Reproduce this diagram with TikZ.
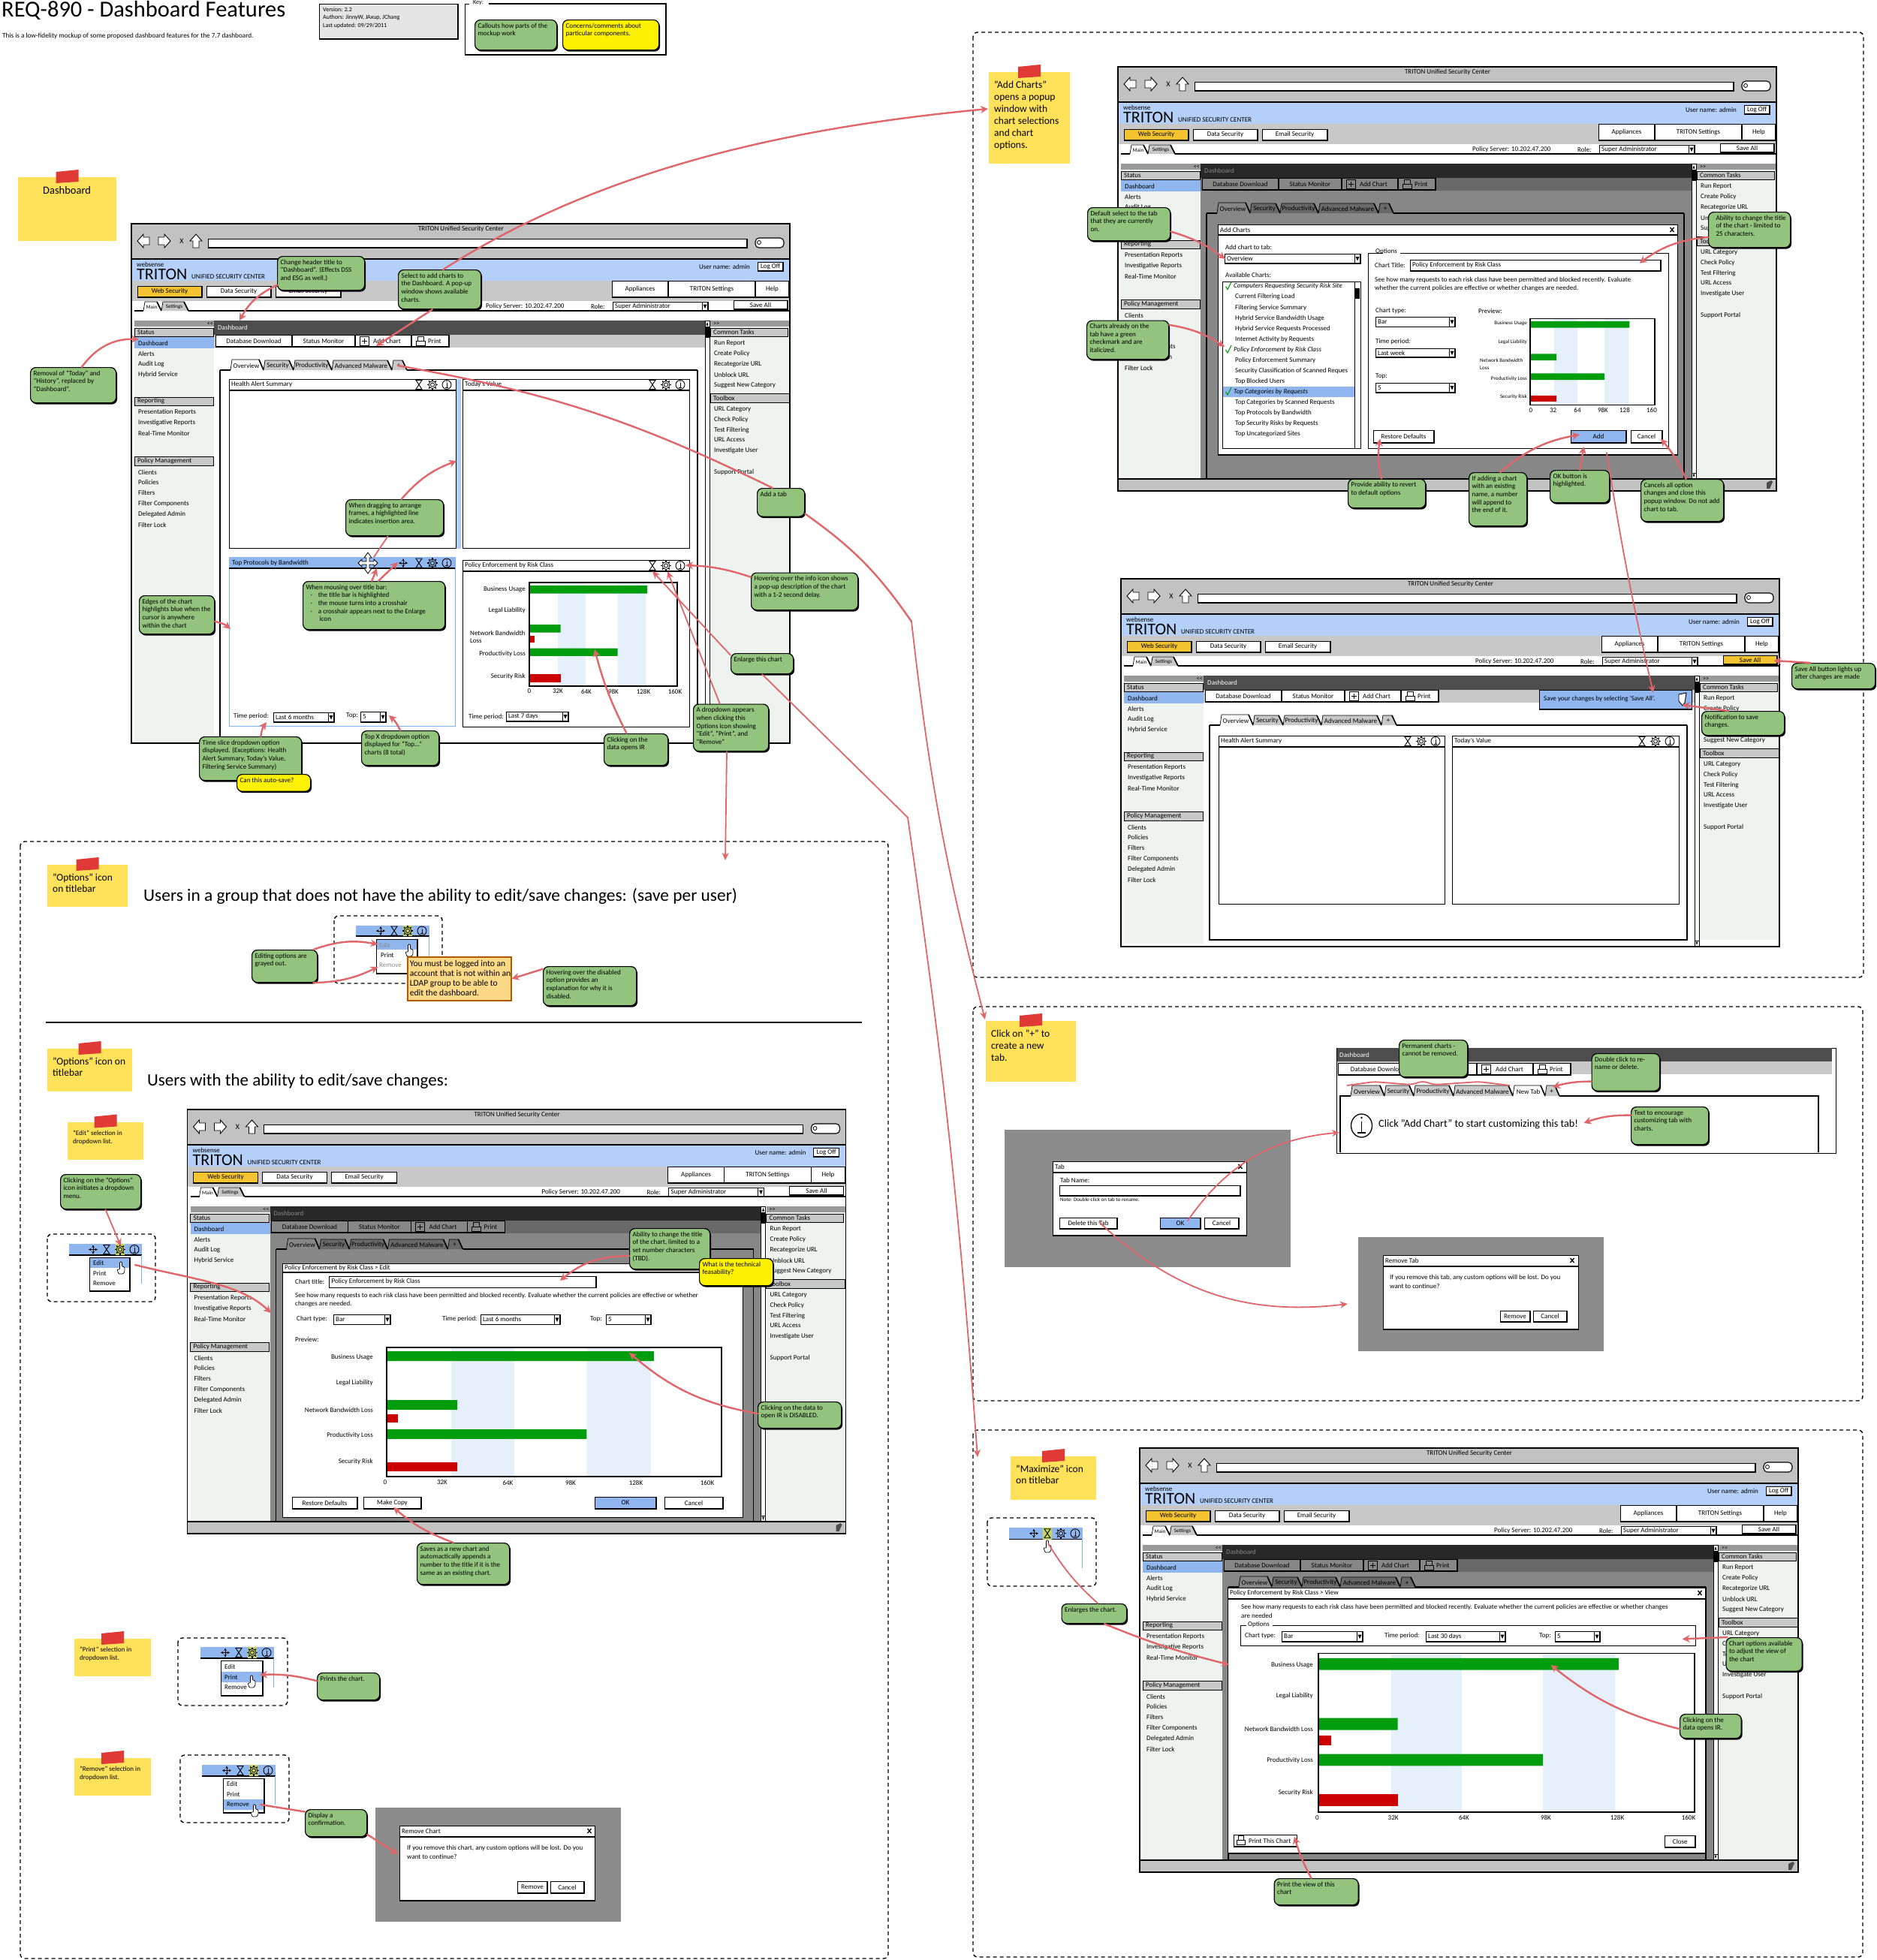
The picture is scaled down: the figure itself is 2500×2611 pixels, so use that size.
\documentclass[tikz,border=0pt]{standalone}
\usepackage{fontspec}
\setmainfont{Carlito}
\usetikzlibrary{arrows.meta,calc,shadows}
\definecolor{calloutgreen}{HTML}{93C47D}
\definecolor{noteyellow}{HTML}{FFE25A}
\definecolor{tapered}{HTML}{E03A36}
\definecolor{arrowred}{HTML}{E0666A}
\definecolor{chromegrey}{HTML}{C2C2C2}
\definecolor{navgrey}{HTML}{C8C8C8}
\definecolor{hdrblue}{HTML}{B4D0F8}
\definecolor{selblue}{HTML}{8FB6EF}
\definecolor{sidebg}{HTML}{EEF3EF}
\definecolor{midgrey}{HTML}{999999}
\definecolor{darkbar}{HTML}{4D4D4D}
\definecolor{band}{HTML}{E6F0FB}
\definecolor{barg}{HTML}{009E0F}
\definecolor{barr}{HTML}{CC0000}
\definecolor{btnyellow}{HTML}{F4C430}
\definecolor{panelgrey}{HTML}{8C8C8C}
\definecolor{gearhi}{HTML}{C7D560}
\definecolor{frameblue}{HTML}{7CB0F0}
\tikzset{
  lab/.style={inner sep=0pt,anchor=west,text=black,font=\fontsize{9}{11}\selectfont},
  fs7/.style={font=\fontsize{7}{8}\selectfont},
  fs8/.style={font=\fontsize{8}{10}\selectfont},
  fs10/.style={font=\fontsize{10}{12}\selectfont},
  whitetext/.style={text=white},
  greytext/.style={text=black!45},
  calloutbox/.style={draw=black,line width=1.2pt,rounded corners=7pt,inner xsep=4pt,inner ysep=3pt,
    font=\fontsize{9.1}{10.7}\selectfont,
    drop shadow={shadow xshift=1.5pt,shadow yshift=-2pt,fill=black,opacity=1}},
  stickybox/.style={fill=noteyellow,inner xsep=7pt,inner ysep=10pt},
  redarrow/.style={draw=arrowred,line width=2.4pt,line cap=round,-{Stealth[length=10pt,width=10pt]}},
  thinred/.style={draw=arrowred,line width=1.8pt,line cap=round},
  thinredarrow/.style={thinred,-{Stealth[length=10pt,width=9pt]}},
  dashbox/.style={draw=black,line width=1.4pt,dash pattern=on 5pt off 4pt,rounded corners=6pt},
  thinline/.style={line width=.7pt},
  heavy/.style={line width=1.6pt},
}
\newcount\lblcnt
\newcommand{\lbl}[4][]{\global\advance\lblcnt by 1\relax \node[lab,#1] (t\the\lblcnt) at ({#2},{#3}) {#4};}
\newcommand{\bx}[5]{\draw[thinline,fill=#5] (#1,#2) rectangle (#3,#4); \draw[heavy] (#1,#4) -- (#3,#4) -- (#3,#2);}
\newcommand{\btn}[7][]{\bx{#2}{#3}{#4}{#5}{#6}\global\advance\lblcnt by 1\relax \node[lab,anchor=center,#1] (t\the\lblcnt) at ($(#2,#3)!.5!(#4,#5)$) {#7};}
\newcommand{\ddn}[5]{\bx{#1}{#2}{#3}{#4}{white}\draw[thinline] ({#3-8},#2) -- ({#3-8},#4);
  \fill[black] ({#3-6.5},{(#2+#4)/2-2.5}) -- ({#3-1.5},{(#2+#4)/2-2.5}) -- ({#3-4},{(#2+#4)/2+3}) -- cycle;
  \lbl{#1+3}{(#2+#4)/2}{#5}}
\newcommand{\tabt}[7][]{\draw[thinline,fill=#6] (#2,#5) -- ({#2+2},#4) -- ({#3-6},#4) -- (#3,#5); \draw[heavy] ({#3-6},#4) -- (#3,#5);
  \global\advance\lblcnt by 1\relax \node[lab,anchor=center,#1] (t\the\lblcnt) at ({(#2+#3)/2-1},{(#4+#5)/2+1}) {#7};}
\newcommand{\sbhead}[5]{\draw[line width=1pt,fill=navgrey] (#1,#3) rectangle (#2,#4); \lbl{#1+4}{(#3+#4)/2}{#5}}
\newcommand{\icmax}[2]{\draw[line width=.9pt] ({#1-4},{#2-6}) -- ({#1+4},{#2-6}) -- ({#1-4},{#2+6}) -- ({#1+4},{#2+6}) -- cycle;}
\newcommand{\icgear}[2]{\draw[line width=.8pt] ({#1},{#2}) circle (2.6pt);\draw[line width=.8pt] ({#1},{#2}) circle (5pt);
  \foreach \ga in {0,45,...,315}{\draw[line width=1.1pt] ($({#1},{#2})+(\ga:5pt)$) -- ($({#1},{#2})+(\ga:7pt)$);}}
\newcommand{\icinfo}[2]{\draw[line width=.9pt] ({#1},{#2}) circle (6pt);\draw[line width=1pt] ({#1},{#2-2.5}) -- ({#1},{#2+3.5}) ({#1-2},{#2+3.5}) -- ({#1+2},{#2+3.5});\fill ({#1},{#2-4}) circle (.7pt);}
\newcommand{\iccross}[2]{\draw[line width=.9pt,{Stealth[length=3.5pt,width=3.5pt]}-{Stealth[length=3.5pt,width=3.5pt]}] ({#1-6},{#2}) -- ({#1+6},{#2});
  \draw[line width=.9pt,{Stealth[length=3.5pt,width=3.5pt]}-{Stealth[length=3.5pt,width=3.5pt]}] ({#1},{#2-6}) -- ({#1},{#2+6});}
\newcommand{\hand}[2]{\begin{scope}[shift={(#1,#2)}]\draw[line width=.7pt,fill=white,rounded corners=1pt] (-1.5,-8) -- (1.5,-8) -- (1.5,-2) -- (5,-1) -- (5,5) -- (3,8) -- (-3,8) -- (-5,2) -- (-1.5,2) -- cycle;\end{scope}}
\newcommand{\chartframe}[5]{\draw[line width=1pt,fill=white] (#1,#2) rectangle (#3,#4); \draw[line width=1.2pt] (#1,{#2+15}) -- (#3,{#2+15});
  \lbl{#1+3}{#2+7.5}{#5}\icmax{#3-49}{#2+7.5}\icgear{#3-31}{#2+7.5}\icinfo{#3-12}{#2+7.5}}
\newcommand{\barchart}[5]{\begin{scope}[shift={(#1,#2)},xscale={#3-#1},yscale={#4-#2}]
  \fill[white] (0,0) rectangle (1,1);
  \fill[band] (.193,0) rectangle (.381,1) (.597,0) rectangle (.789,1);
  \fill[barg] (0,.03) rectangle (.798,.105) (0,.407) rectangle (.211,.483) (0,.634) rectangle (.597,.709);
  \fill[barr] (0,.887) rectangle (.211,.962);
  \ifnum#5=1 \fill[barr] (0,.517) rectangle (.034,.581);\fi
  \draw[line width=1.1pt] (0,1) -- (0,0) -- (1,0) -- (1,1) -- cycle;
  \end{scope}}
\newcommand{\dlg}[6]{\draw[line width=.8pt,fill=white] (#1,#2) rectangle (#3,#4); \draw[heavy] (#1,#4) -- (#3,#4); \draw[line width=1.2pt] (#1,#5) -- (#3,#5);
  \lbl{#1+3}{(#2+#5)/2}{#6}}
\newcommand{\closex}[2]{\draw[line width=1.3pt] ({#1-2.5},{#2-3}) -- ({#1+2.5},{#2+3}) ({#1+2.5},{#2-3}) -- ({#1-2.5},{#2+3});}
\newcommand{\minibar}[5]{\fill[selblue] (#1,#2) rectangle (#3,#4); \draw[line width=1.2pt] (#1,#4) -- (#3,#4);
  \ifnum#5=1 \fill[gearhi] ({#3-35},#2) rectangle ({#3-23},#4);\fi
  \ifnum#5=2 \fill[gearhi] ({#3-53},#2) rectangle ({#3-41},#4);\fi
  \iccross{#3-65}{(#2+#4)/2}\icmax{#3-47}{(#2+#4)/2}\icgear{#3-29}{(#2+#4)/2}\icinfo{#3-10}{(#2+#4)/2}}
\newcommand{\brchrome}[2]{%
  \fill[white] (0,0) rectangle (877,#1);
  \fill[chromegrey] (0,0) rectangle (877,47);
  \draw[line width=1.6pt] (0,0) -- (877,0) (0,47) -- (877,47);
  \lbl[anchor=center]{439}{7}{TRITON Unified Security Center}
  \draw[line width=.9pt,fill=white] (8,23) -- (16,14) -- (16,18) -- (24,18) -- (24,28) -- (16,28) -- (16,32) -- cycle;
  \draw[line width=.9pt,fill=white] (52,23) -- (44,14) -- (44,18) -- (36,18) -- (36,28) -- (44,28) -- (44,32) -- cycle;
  \lbl[anchor=center,fs10]{67}{23}{X}
  \draw[line width=.9pt,fill=white] (86,14) -- (94,23) -- (90,23) -- (90,32) -- (82,32) -- (82,23) -- (78,23) -- cycle;
  \bx{102}{20}{820}{32}{white}
  \draw[line width=1.1pt,fill=white,rounded corners=5pt] (831,19) rectangle (869,32);
  \draw[line width=.8pt] (836,25) circle (2.5pt);
  \fill[hdrblue] (0,47.5) rectangle (877,76);
  \lbl{7}{54}{websense}
  \lbl[font=\fontsize{22}{24}\selectfont]{7}{67.5}{TRITON}
  \lbl{80}{71}{UNIFIED SECURITY CENTER}
  \lbl[anchor=east]{824}{57}{User name: admin}
  \btn{834}{51}{868}{63}{white}{Log Off}
  \fill[navgrey] (0,76) rectangle (877,103);
  \btn{8}{83}{94}{98}{btnyellow}{Web Security}
  \btn{100}{83}{186}{98}{white}{Data Security}
  \btn{192}{83}{279}{98}{white}{Email Security}
  \btn{640}{76}{715}{98}{white}{Appliances}
  \btn{715}{76}{831}{98}{white}{TRITON Settings}
  \btn{831}{76}{876}{98}{white}{Help}
  \draw[line width=1.2pt] (4,116) -- (16,116) (76,116) -- (877,116);
  \tabt[fs7]{16}{40}{104}{116}{white}{Main}
  \tabt[fs7]{40}{76}{104}{116}{navgrey}{Settings}
  \lbl{472}{110}{Policy Server: 10.202.47.200}
  \lbl{612}{110}{Role:}
  \ddn{641}{104}{768}{116}{Super Administrator}
  \btn{802}{102}{874}{114}{#2}{Save All}
}
\newcommand{\brleft}[1]{%
  \fill[sidebg] (4,137) rectangle (110,#1);
  \fill[midgrey] (4,129) rectangle (110,137);
  \lbl[anchor=east,fs8]{109}{133}{<{}<}
  \sbhead{4}{109}{139}{150}{Status}
  \fill[selblue] (4,151) rectangle (110,166);
  \sbhead{4}{109}{231}{242}{Reporting}
  \sbhead{4}{109}{310}{322}{Policy Management}
  \foreach \tx/\yy in {Dashboard/159,Alerts/173,Audit Log/187,Hybrid Service/201,Presentation Reports/251,Investigative Reports/265,Real-Time Monitor/279,Clients/331,Policies/344,Filters/358,Filter Components/373,Delegated Admin/387,Filter Lock/401}{\lbl{9}{\yy}{\tx}}
}
\newcommand{\brright}[1]{%
  \fill[sidebg] (771,137) rectangle (877,#1);
  \fill[midgrey] (771,129) rectangle (877,137);
  \lbl[fs8]{775}{133}{>{}>}
  \sbhead{771}{874}{139}{150}{Common Tasks}
  \sbhead{771}{876}{226}{238}{Toolbox}
  \foreach \tx/\yy in {Run Report/159,Create Policy/173,Recategorize URL/187,Unblock URL/201,Suggest New Category/215,URL Category/247,Check Policy/261,Test Filtering/275,URL Access/288,Investigate User/302,Support Portal/331}{\lbl{776}{\yy}{\tx}}
}
% #1 bottom, #2 panel bottom, #3 vertical offset of the tab row
\newcommand{\brmain}[3]{%
  \fill[white] (110,129) rectangle (764,#1);
  \fill[darkbar] (110,129) rectangle (764,148);
  \lbl[whitetext]{115}{138.5}{Dashboard}
  \fill[navgrey] (110,148) rectangle (764,165);
  \btn{112}{148}{214}{164}{white}{Database Download}
  \btn{214}{148}{298}{164}{white}{Status Monitor}
  \bx{298}{148}{373}{164}{white}
  \lbl{322}{156}{Add Chart}
  \draw[line width=.8pt,fill=white] (304,150) rectangle (316,162);
  \draw[line width=.8pt] (310,153) -- (310,160) (306.5,156.5) -- (313.5,156.5);
  \bx{373}{148}{423}{164}{white}
  \lbl{395}{156}{Print}
  \draw[line width=.8pt,fill=white] (381,150) rectangle (389,156) (379,156) rectangle (391,162);
  \draw[line width=1.2pt] (118,{195+#3}) -- (132,{195+#3}) (367,{195+#3}) -- (754,{195+#3}) (118,{195+#3}) -- (118,#2) -- (754,#2) -- (754,{195+#3});
  \tabt{132}{176}{181+#3}{195+#3}{white}{Overview}
  \tabt{176}{216}{182+#3}{195+#3}{navgrey}{Security}
  \tabt{216}{267}{182+#3}{195+#3}{navgrey}{Productivity}
  \tabt{267}{347}{182+#3}{195+#3}{navgrey}{Advanced Malware}
  \tabt{347}{367}{182+#3}{195+#3}{navgrey}{+}
  \draw[line width=.8pt,fill=white] (764,129) rectangle (770,#1);
  \fill[black] (764.5,138) rectangle (769.5,152);
  \draw[line width=.6pt,fill=white] (764,129) rectangle (770,137) (764,{#1-8}) rectangle (770,#1);
  \fill[black] (765.5,135.5) -- (768.5,135.5) -- (767,131) -- cycle;
  \fill[black] (765.5,{#1-6.5}) -- (768.5,{#1-6.5}) -- (767,{#1-2}) -- cycle;
}
\newcommand{\dimmer}[1]{\fill[black,opacity=.47] (110,129) rectangle (764,#1);}
\newcommand{\brfoot}{%
  \fill[chromegrey] (0,549) rectangle (877,565);
  \draw[line width=1.6pt] (0,549) -- (877,549) (0,565) -- (877,565);
  \fill[black!70] (864,554) -- (870,551) -- (872,553) -- (868,562) -- (864,562) -- cycle;
}
\newcommand{\callout}[7][calloutgreen]{\node[calloutbox,fill=#1,anchor=north west] (#2) at (#3,#4) {\parbox[t][\dimexpr #6pt-#4pt-6pt][t]{\dimexpr #5pt-#3pt-8pt}{\makebox[\dimexpr #5pt-#3pt-8pt][l]{\begin{tabular}[t]{@{}l@{}}#7\end{tabular}}}};}
\newcommand{\sticky}[7]{\node[stickybox,anchor=north west,font=\fontsize#6\selectfont] (#1) at (#2,#3) {\parbox[t][\dimexpr #5pt-#3pt-20pt][t]{\dimexpr #4pt-#2pt-14pt}{\makebox[\dimexpr #4pt-#2pt-14pt][l]{\begin{tabular}[t]{@{}l@{}}#7\end{tabular}}}};
  \fill[tapered] ({(#2+#4)/2-15},{#3-7}) -- ({(#2+#4)/2+15},{#3-10}) -- ({(#2+#4)/2+15},{#3+6}) -- ({(#2+#4)/2-15},{#3+8}) -- cycle;}
\begin{document}
\begin{tikzpicture}[x=1pt,y=-1pt]
\useasboundingbox (0,0) rectangle (2500,2611);
\fill[white] (0,0) rectangle (2500,2611);
% ---- header
\lbl[font=\fontsize{30.5}{33}\selectfont]{2}{14}{REQ-890 - Dashboard Features}
\lbl[font=\fontsize{9.2}{11}\selectfont]{3}{48}{This is a low-fidelity mockup of some proposed dashboard features for the 7.7 dashboard.}
\bx{425}{5}{610}{52}{black!10}
\lbl[fs8]{430}{12.5}{Version: 2.2}
\lbl[fs8]{430}{23}{Authors: JinnyW, JAxup, JChang}
\lbl[fs8]{430}{34}{Last updated: 09/29/2011}
\draw[thinline] (619,5) rectangle (887,73);
\draw[heavy] (619,73) -- (887,73) -- (887,5) -- (650,5);
\fill[white] (625,0) rectangle (651,7);
\lbl[fs8]{630}{4}{Key:}
\callout{k_green}{632}{26}{741}{66}{Callouts how parts of the\\mockup work}
\callout[yellow]{k_yellow}{749}{26}{877}{66}{Concerns/comments about\\particular components.}
% ---- browser 1
\begin{scope}[shift={(175,298)}]
\brchrome{692}{white}\brleft{692}\brright{692}\brmain{692}{692}{0}
\draw[line width=1.2pt] (0,0) rectangle (877,692);
\end{scope}
\fill[frameblue!60] (608,505) rectangle (614,731);
\chartframe{305}{505}{607}{730}{Health Alert Summary}
\chartframe{616}{505}{918}{730}{Today's Value}
\draw[draw=frameblue,line width=1pt,fill=white] (305,742) rectangle (606,967);
\fill[selblue] (305,742) rectangle (606,757);
\draw[line width=1.2pt] (305,757) -- (606,757);
\lbl{309}{750}{Top Protocols by Bandwidth}
\iccross{537}{750}\icmax{558}{750}\icgear{576}{750}\icinfo{595}{750}
\begin{scope}[shift={(490,750)}]
\draw[line width=.8pt,fill=white] (0,-14) -- (5,-7) -- (2,-7) -- (2,-2) -- (8,-2) -- (8,-5) -- (13,0) -- (8,5) -- (8,2) -- (2,2) -- (2,7) -- (5,7) -- (0,14) -- (-5,7) -- (-2,7) -- (-2,2) -- (-8,2) -- (-8,5) -- (-13,0) -- (-8,-5) -- (-8,-2) -- (-2,-2) -- (-2,-7) -- (-5,-7) -- cycle;
\end{scope}
\lbl{311}{954}{Time period:}\ddn{364}{949}{445}{962}{Last 6 months}
\lbl{461}{953}{Top:}\ddn{480}{948}{514}{962}{5}
\chartframe{616}{746}{918}{968}{Policy Enforcement by Risk Class}
\barchart{705}{776}{902}{914}{1}
\lbl[anchor=east]{700}{785}{Business Usage}
\lbl[anchor=east]{700}{813}{Legal Liability}
\lbl{626}{843}{Network Bandwidth}\lbl{626}{854}{Loss}
\lbl[anchor=east]{700}{871}{Productivity Loss}
\lbl[anchor=east]{700}{901}{Security Risk}
\foreach \tx/\xx in {0/705,32K/743,64K/781,98K/817,128K/857,160K/899}{\lbl[anchor=center]{\xx}{921}{\tx}}
\lbl{624}{955}{Time period:}\ddn{674}{948}{757}{961}{Last 7 days}
% ---- browser 2 : add charts
\begin{scope}[shift={(1489,89)}]
\brchrome{565}{white}\brleft{549}\brright{549}\brmain{549}{549}{0}\dimmer{549}\brfoot
\draw[line width=1.2pt] (0,0) rectangle (877,565);
\end{scope}
\dlg{1622}{299}{2234}{606}{313}{Add Charts}\closex{2227}{306}
\lbl{1632}{329}{Add chart to tab:}\ddn{1631}{338}{1812}{351}{Overview}
\lbl{1632}{366}{Available Charts:}
\draw[line width=1pt,fill=white] (1628,375) rectangle (1812,597);
\fill[selblue] (1629,515) rectangle (1804,529);
\draw[thinline] (1804,375) -- (1804,597);\fill[black] (1805,384) rectangle (1811,398);
\foreach \tx/\yy in {Current Filtering Load/395.5,Filtering Service Summary/410,Hybrid Service Bandwidth Usage/424,Hybrid Service Requests Processed/437.6,Internet Activity by Requests/452,Policy Enforcement Summary/479.6,Top Blocked Users/508,Top Categories by Scanned Requests/536,Top Protocols by Bandwidth/550,Top Security Risks by Requests/564,Top Uncategorized Sites/578}{\lbl{1645}{\yy}{\tx}}
\lbl{1645}{494}{Security Classification of Scanned Reques}
\lbl{1643}{381.6}{\itshape Computers Requesting Security Risk Site}
\lbl{1643}{466}{\itshape Policy Enforcement by Risk Class}
\lbl{1643}{522}{\itshape Top Categories by Requests}
\foreach \yy in {381.6,466,522}{\draw[barg,line width=1.1pt] (1632.5,\yy) -- (1635,{\yy+4}) -- (1640,{\yy-6});}
\draw[line width=1pt] (1842,337.5) -- (1822,337.5) -- (1822,597) -- (2222,597) -- (2222,337.5) -- (1865,337.5);
\lbl{1832}{335}{Options}
\lbl{1831}{353}{Chart Title:}
\bx{1878}{346}{2212}{361}{white}\lbl{1881}{353}{Policy Enforcement by Risk Class}
\lbl{1831}{373.5}{See how many requests to each risk class have been permitted and blocked recently. Evaluate}
\lbl{1831}{384.5}{whether the current policies are effective or whether changes are needed.}
\lbl{1832}{414}{Chart type:}\ddn{1832}{422}{1938}{435.5}{Bar}
\lbl{1832}{455}{Time period:}\ddn{1832}{464}{1938}{476}{Last week}
\lbl{1832}{501.6}{Top:}\ddn{1832}{510}{1938}{523}{5}
\lbl{1969}{414}{Preview:}
\barchart{2038}{424.5}{2204}{539.6}{0}
\lbl[anchor=east,fs7]{2034}{431}{Business Usage}
\lbl[anchor=east,fs7]{2034}{455.5}{Legal Liability}
\lbl[fs7]{1971}{480}{Network Bandwidth}\lbl[fs7]{1971}{490}{Loss}
\lbl[anchor=east,fs7]{2034}{504.5}{Productivity Loss}
\lbl[anchor=east,fs7]{2034}{528.6}{Security Risk}
\foreach \tx/\xx in {0/2039,32/2068.6,64/2101,98K/2135,128/2164,160/2200}{\lbl[anchor=center]{\xx}{546.5}{\tx}}
\btn{1829}{573.5}{1910}{590}{white}{Restore Defaults}
\btn{2092}{573.5}{2166}{590}{selblue}{Add}
\btn{2172}{573.5}{2214}{590}{white}{Cancel}
% ---- browser 3 : save
\begin{scope}[shift={(1493,771)}]
\brchrome{490}{btnyellow}\brleft{486}\brright{481}\brmain{490}{481}{0}
\draw[line width=1.2pt] (0,0) rectangle (877,490);
\end{scope}
\chartframe{1623}{980}{1924}{1204}{Health Alert Summary}
\chartframe{1934}{980}{2236}{1204}{Today's Value}
\draw[thinline,fill=selblue] (2050,919) rectangle (2253,945);\draw[heavy] (2050,945) -- (2253,945);
\lbl{2056}{931}{Save your changes by selecting 'Save All'.}
\draw[line width=.9pt,fill=white] (2236,925) -- (2246,923) -- (2244,936) -- (2241,940) -- (2236,934) -- cycle;
% ---- tab section
\fill[panelgrey] (1338,1505) rectangle (1719,1688);
\dlg{1402}{1547}{1660}{1646}{1562}{Tab}\closex{1652}{1554}
\lbl{1412}{1572}{Tab Name:}
\bx{1411}{1579}{1652}{1593}{white}
\lbl[fs7]{1412}{1598}{Note: Double-click on tab to rename.}
\btn{1411}{1622}{1488}{1637}{white}{Delete this Tab}
\btn{1545}{1622}{1599}{1637}{selblue}{OK}
\btn{1604}{1622}{1650}{1637}{white}{Cancel}
\fill[panelgrey] (1809,1648) rectangle (2136,1800);
\dlg{1842}{1672}{2102}{1771}{1687}{Remove Tab}\closex{2094}{1679}
\lbl{1851}{1702}{If you remove this tab, any custom options will be lost. Do you}
\lbl{1851}{1713}{want to continue?}
\btn{1998}{1746}{2038}{1761}{white}{Remove}
\btn{2042}{1746}{2087}{1761}{white}{Cancel}
\fill[darkbar] (1780,1396) rectangle (2440,1414);
\lbl[whitetext]{1784}{1405}{Dashboard}
\fill[navgrey] (1780,1414) rectangle (2440,1431);
\draw[line width=1pt] (1780,1396) -- (1780,1536) -- (2445,1536) -- (2445,1396) -- (2440,1396);
\btn{1782}{1416}{1880}{1432}{white}{Database Downlo}
\bx{1880}{1416}{1967}{1432}{white}
\bx{1967}{1416}{2042}{1432}{white}\lbl{1992}{1424}{Add Chart}
\draw[line width=.8pt,fill=white] (1973,1418) rectangle (1985,1430);
\draw[line width=.8pt] (1979,1420.5) -- (1979,1428) (1975.5,1424) -- (1982.5,1424);
\bx{2042}{1416}{2092}{1432}{white}\lbl{2064}{1424}{Print}
\draw[line width=.8pt,fill=white] (2050,1418) rectangle (2058,1424) (2048,1424) rectangle (2060,1430);
\draw[line width=1.2pt] (1785,1535) -- (1785,1460) -- (1799,1460) (2077,1460) -- (2422,1460) -- (2422,1535);
\tabt{1799}{1844}{1446}{1460}{navgrey}{Overview}
\tabt{1844}{1883}{1446}{1460}{navgrey}{Security}
\tabt{1883}{1936}{1446}{1460}{navgrey}{Productivity}
\tabt{1936}{2015}{1446}{1460}{navgrey}{Advanced Malware}
\tabt{2015}{2058}{1446}{1460}{white}{New Tab}
\tabt{2058}{2077}{1446}{1460}{navgrey}{+}
\draw[line width=1.3pt] (1813.5,1499.5) ellipse (14pt and 15.5pt);
\draw[line width=1.6pt] (1813.5,1494) -- (1813.5,1508) (1808,1509) -- (1819,1509);\fill (1813.5,1489) circle (1.3pt);
\lbl[font=\fontsize{14.2}{17}\selectfont]{1836}{1498}{Click "Add Chart" to start customizing this tab!}
% ---- browser 5 : maximize
\begin{scope}[shift={(1518,1929)}]
\brchrome{565}{white}\brleft{549}\brright{549}\brmain{549}{549}{-10}\dimmer{549}\brfoot
\draw[line width=1.2pt] (0,0) rectangle (877,565);
\end{scope}
\dlg{1635}{2115}{2271.5}{2469}{2130}{Policy Enforcement by Risk Class > View}\closex{2264}{2122}
\lbl{1653}{2141}{See how many requests to each risk class have been permitted and blocked recently. Evaluate whether the current policies are effective or whether changes}
\lbl{1653}{2152}{are needed}
\draw[line width=1pt] (1660,2165) -- (1652,2165) -- (1652,2192.5) -- (2258,2192.5) -- (2258,2165) -- (1695,2165);
\lbl{1662}{2164}{Options}
\lbl{1658}{2179}{Chart type:}\ddn{1707}{2173}{1815}{2187}{Bar}
\lbl{1844}{2179}{Time period:}\ddn{1899}{2173}{2005}{2187}{Last 30 days}
\lbl{2050}{2179}{Top:}\ddn{2071}{2173}{2131}{2187}{5}
\barchart{1756}{2202.5}{2257}{2414}{1}
\lbl[anchor=east]{1749}{2218}{Business Usage}
\lbl[anchor=east]{1749}{2259}{Legal Liability}
\lbl[anchor=east]{1749}{2303}{Network Bandwidth Loss}
\lbl[anchor=east]{1749}{2345}{Productivity Loss}
\lbl[anchor=east]{1749}{2388}{Security Risk}
\foreach \tx/\xx in {0/1754.5,32K/1855.6,64K/1950,98K/2059,128K/2154,160K/2249}{\lbl[anchor=center]{\xx}{2421.5}{\tx}}
\btn{1643}{2444}{1727.5}{2460}{white}{\hspace*{12pt}Print This Chart}
\draw[line width=.8pt,fill=white] (1649,2445) rectangle (1656,2451) (1647,2451) rectangle (1658,2457);
\btn{2217.5}{2445}{2258}{2461}{white}{Close}
\draw[dashbox] (1315,2022) rectangle (1460,2113);
\minibar{1344}{2035}{1442}{2050.5}{2}
\draw[draw=frameblue,line width=1pt] (1441,2050) -- (1441,2089);
\hand{1395}{2060}
% ---- left panel
\draw[dashbox] (445,1220) rectangle (589,1310);
\minibar{474}{1233}{572}{1247}{1}
\draw[draw=frameblue,line width=1pt] (571,1247) -- (571,1275);
\bx{501}{1251}{556}{1297}{white}
\fill[selblue] (502,1252) rectangle (555,1265);
\lbl[greytext]{505}{1259}{Edit}\lbl{507}{1272}{Print}\lbl[greytext]{505}{1286}{Remove}
\hand{545}{1266}
\node[draw=orange!70!black,line width=1.6pt,fill=yellow!40!orange!45,anchor=north west,inner xsep=3pt,inner ysep=3pt,font=\fontsize{11.6}{13.2}\selectfont] (tooltip) at (542,1274) {\parbox[t][52pt][t]{132pt}{\makebox[132pt][l]{\begin{tabular}[t]{@{}l@{}}You must be logged into an\\account that is not within an\\LDAP group to be able to\\edit the dashboard.\end{tabular}}}};
\lbl[font=\fontsize{23.4}{25}\selectfont]{191}{1194}{Users in a group that does not have the ability to edit/save changes: (save per user)}
\draw[line width=1.3pt] (61,1362) -- (1148,1362);
\lbl[font=\fontsize{23}{25}\selectfont]{196}{1440}{Users with the ability to edit/save changes:}
\begin{scope}[shift={(249.5,1478)}]
\brchrome{565}{white}\brleft{549}\brright{549}\brmain{549}{549}{-9}\dimmer{549}\brfoot
\draw[line width=1.2pt] (0,0) rectangle (877,565);
\end{scope}
\dlg{376}{1683.5}{989}{2021.6}{1695}{Policy Enforcement by Risk Class > Edit}
\lbl{393}{1707}{Chart title:}
\bx{438.5}{1700.5}{794}{1715.6}{white}\lbl{441.5}{1707}{Policy Enforcement by Risk Class}
\lbl{393}{1726}{See how many requests to each risk class have been permitted and blocked recently. Evaluate whether the current policies are effective or whether}
\lbl{393}{1737}{changes are needed.}
\lbl{395}{1757}{Chart type:}\ddn{444}{1751}{520}{1764.6}{Bar}
\lbl{589}{1757}{Time period:}\ddn{640}{1751}{746}{1764.6}{Last 6 months}
\lbl{786}{1757}{Top:}\ddn{807}{1751}{867}{1764.6}{5}
\lbl{393}{1784}{Preview:}
\barchart{515}{1795}{961}{1967}{1}
\lbl[anchor=east]{497}{1808}{Business Usage}
\lbl[anchor=east]{497}{1842}{Legal Liability}
\lbl[anchor=east]{497}{1878}{Network Bandwidth Loss}
\lbl[anchor=east]{497}{1912}{Productivity Loss}
\lbl[anchor=east]{497}{1947}{Security Risk}
\foreach \tx/\xx in {0/513,32K/589,64K/676.5,98K/760,128K/847,160K/942}{\lbl[anchor=center]{\xx}{1975}{\tx}}
\btn{389}{1994}{476}{2010}{white}{Restore Defaults}
\btn{484}{1994}{561}{2010}{white}{Make Copy}
\btn{792}{1994}{874}{2010}{selblue}{OK}
\btn{885}{1994}{963}{2010}{white}{Cancel}
\draw[dashbox] (63,1644) rectangle (207,1734);
\minibar{92}{1657}{189}{1672}{1}
\draw[draw=frameblue,line width=1pt] (188,1672) -- (188,1710);
\bx{119}{1675}{173}{1720}{white}
\fill[selblue] (120,1676) rectangle (172,1689);
\lbl{124}{1682}{Edit}\lbl{124}{1696}{Print}\lbl{124}{1710}{Remove}
\hand{161}{1689}
\draw[dashbox] (237,2182) rectangle (383,2272);
\minibar{267}{2194}{365}{2209}{1}
\draw[draw=frameblue,line width=1pt] (364,2209) -- (364,2248);
\bx{294}{2212}{350}{2259}{white}
\fill[selblue] (295,2227) rectangle (349,2241);
\lbl{299}{2220}{Edit}\lbl{299}{2234}{Print}\lbl{299}{2248}{Remove}
\hand{335}{2240}
\draw[dashbox] (240,2338) rectangle (385,2428);
\minibar{269}{2351}{367}{2366}{1}
\draw[draw=frameblue,line width=1pt] (366,2366) -- (366,2404);
\bx{297}{2369}{352}{2415}{white}
\fill[selblue] (298,2397) rectangle (351,2411);
\lbl{302}{2376}{Edit}\lbl{302}{2390}{Print}\lbl{302}{2404}{Remove}
\hand{339}{2412}
\fill[panelgrey] (500,2408) rectangle (827,2560);
\dlg{532}{2432}{792}{2532}{2447}{Remove Chart}\closex{785}{2439}
\lbl{542}{2462}{If you remove this chart, any custom options will be lost. Do you}
\lbl{542}{2473}{want to continue?}
\btn{689}{2506}{729}{2522}{white}{Remove}
\btn{733}{2506}{778}{2522}{white}{Cancel}
% ---- dashed section frames
\draw[dashbox] (1296,43) rectangle (2482,1302);
\draw[dashbox] (1296,1341) rectangle (2481,1866);
\draw[dashbox] (1296,1905) rectangle (2481,2607);
\draw[dashbox] (27,1121) rectangle (1183,2609);
% ---- stickies
\sticky{s_dash}{24}{236}{155}{321}{{14.5}{17}}{\hspace*{26pt}Dashboard}
\sticky{s_addcharts}{1317}{96}{1425}{218}{{13.5}{16}}{"Add Charts"\\opens a popup\\window with\\chart selections\\and chart\\options.}
\sticky{s_plus}{1313}{1360}{1433}{1441}{{13.5}{16}}{Click on "+" to\\create a new\\tab.}
\sticky{s_max}{1346}{1940}{1460}{1997.5}{{13.5}{15.5}}{"Maximize" icon\\on titlebar}
\sticky{s_opt1}{63}{1152}{170}{1208}{{13.5}{15.5}}{"Options" icon\\on titlebar}
\sticky{s_opt2}{63}{1397}{176}{1454}{{13.5}{15.5}}{"Options" icon on\\titlebar}
\sticky{s_edit}{90}{1494.5}{191}{1545}{{9}{11}}{"Edit" selection in\\dropdown list.}
\sticky{s_print}{99}{2183}{201}{2233}{{9}{11}}{"Print" selection in\\dropdown list.}
\sticky{s_remove}{99}{2342}{201}{2392}{{9}{11}}{"Remove" selection in\\dropdown list.}
% ---- callouts
\callout{c_header}{369}{341}{485}{386}{Change header title to\\"Dashboard". (Effects DSS\\and ESG as well.)}
\callout{c_addchart}{530}{359}{640}{411}{Select to add charts to\\the Dashboard. A pop-up\\window shows available\\charts.}
\callout{c_removal}{40}{489}{154}{536}{Removal of "Today" and\\"History", replaced by\\"Dashboard".}
\callout{c_drag}{460}{665}{590}{713}{When dragging to arrange\\frames, a highlighted line\\indicates insertion area.}
\callout{c_edges}{185}{793}{285}{844}{Edges of the chart\\highlights blue when the\\cursor is anywhere\\within the chart}
\callout{c_mouse}{403}{774}{592}{838}{When mousing over title bar:\\\hspace*{6pt}·\hspace*{8pt}the title bar is highlighted\\\hspace*{6pt}·\hspace*{8pt}the mouse turns into a crosshair\\\hspace*{6pt}·\hspace*{8pt}a crosshair appears next to the Enlarge\\\hspace*{18pt}icon}
\callout{c_hover}{1000}{762.5}{1142}{812}{Hovering over the info icon shows\\a pop-up description of the chart\\with a 1-2 second delay.}
\callout{c_enlarge}{973}{870}{1056}{897}{Enlarge this chart}
\callout{c_addtab}{1008}{650}{1071}{687.5}{Add a tab}
\callout{c_dropdown}{923}{937.5}{1023}{1000}{A dropdown appears\\when clicking this\\Options icon showing\\"Edit", "Print", and\\"Remove"}
\callout{c_timeslice}{265}{981}{401}{1039}{Time slice dropdown option\\displayed. (Exceptions: Health\\Alert Summary, Today's Value,\\Filtering Service Summary)}
\callout[yellow]{y_autosave}{315}{1031}{413}{1053.6}{Can this auto-save?}
\callout{c_topx}{481}{973}{584}{1019}{Top X dropdown option\\displayed for "Top..."\\charts (8 total)}
\callout{c_clicking}{804}{977}{889}{1019}{Clicking on the\\data opens IR}
\callout{c_default}{1448}{276}{1558}{320}{Default select to the tab\\that they are currently\\on.}
\callout{c_checks}{1447}{426.5}{1556}{478}{Charts already on the\\tab have a green\\checkmark and are\\italicized.}
\callout{c_title}{2275}{282}{2384}{329}{\hspace*{6pt}Ability to change the title\\\hspace*{6pt}of the chart - limited to\\\hspace*{6pt}25 characters.}
\callout{c_restore}{1795}{637.6}{1898}{676}{Provide ability to revert\\to default options}
\callout{c_ifadd}{1956}{629}{2033}{700}{If adding a chart\\with an existing\\name, a number\\will append to\\the end of it.}
\callout{c_ok}{2064}{626}{2143}{669}{OK button is\\highlighted.}
\callout{c_cancel}{2185}{638}{2295}{694}{Cancels all option\\changes and close this\\popup window. Do not add\\chart to tab.}
\callout{c_saveall}{2386}{883}{2497}{917}{Save All button lights up\\after changes are made}
\callout{c_notif}{2266}{947}{2376}{979}{Notification to save\\changes.}
\callout{c_perm}{1863}{1385}{1954}{1434}{Permanent charts -\\cannot be removed.}
\callout{c_dbl}{2119.5}{1403}{2210}{1452.5}{Double click to re-\\name or delete.}
\callout{c_text}{2172}{1474}{2275}{1524}{Text to encourage\\customizing tab with\\charts.}
\callout{c_enl2}{1413.5}{2136}{1500}{2162}{Enlarges the chart.}
\callout{c_chartopts}{2298.5}{2181}{2399.6}{2225.6}{Chart options available\\to adjust the view of\\the chart}
\callout{c_clicking2}{2237}{2283}{2318.6}{2315}{Clicking on the\\data opens IR.}
\callout{c_print2}{1696.6}{2502}{1808.5}{2537}{Print the view of this\\chart}
\callout{c_editing}{335}{1265}{422}{1308}{Editing options are\\grayed out.}
\callout{c_hoverdis}{723}{1287}{847}{1339}{Hovering over the disabled\\option provides an\\explanation for why it is\\disabled.}
\callout{c_clickopt}{80}{1564}{187}{1610}{Clicking on the "Options"\\icon initiates a dropdown\\menu.}
\callout{c_ability}{838}{1636}{945}{1690}{Ability to change the title\\of the chart, limited to a\\set number characters\\(TBD).}
\callout[yellow]{y_tech}{931}{1676}{1029}{1712}{What is the technical\\feasability?}
\callout{c_clickdis}{1009}{1867}{1120}{1902}{Clicking on the data to\\open IR is DISABLED.}
\callout{c_saves}{555}{2055}{678}{2110}{Saves as a new chart and\\automactically appends a\\number to the title if it is the\\same as an existing chart.}
\callout{c_prints}{422}{2228}{505}{2264}{Prints the chart.}
\callout{c_display}{406}{2410}{488}{2446}{Display a\\confirmation.}
% ---- connectors
\foreach \nm/\px/\py in {a1/319/427,a2/501/461,a3/1316/145,a4/185/452,a5/608/614,a6/498/742,a7/307/838,a8/502/757,a9/530/749,a10/913/753,a11/869/761,a12/1209/1089,a13/1302/1941,a14/530/487,a15/1214/828,a16/1312/1358,a17/889/761,a18/966/1146,a19/355/962,a20/518/953,a21/792/865,b1/1632/345,b2/1631/462,b3/2183.5/350.6,b4/1838/584.5,b5/2104/579,b6/2109.5/595,b7/2212/584.5,b8/2140/603,b9/2202/923,b10/2362.5/880,b11/2240.6/939,d1/2068/1448,d2/2109.5/1496,d3/1582/1626,d4/1784/1508.6,d5/1464/1628,d6/1795/1737,e1/1396/2056,e2/1637/2217.5,e3/2240.6/2183.4,e4/2065.5/2218,e5/1724/2446.5,f1/503.5/1258,f2/503.5/1288,f3/161/1660,f4/180/1685,f5/361/1749,f6/746/1706,f7/838/1802,f8/524/2008,f9/346/2231,f10/347/2404,f11/530/2470}{\coordinate (\nm) at (\px,\py);}
\draw[redarrow] (c_header.195) to[bend right=18] (a1);
\draw[redarrow] (c_addchart.250) -- (a2);
\draw[redarrow] (c_addchart.80) .. controls (800,225) and (1050,170) .. (a3);
\draw[redarrow] (c_removal.65) to[bend left=28] (a4);
\draw[redarrow] (c_drag.70) to[bend left=14] (a5);
\draw[thinred] (c_drag.250) -- (a6);
\draw[redarrow] (c_edges.-10) to[bend left=15] (a7);
\draw[redarrow] (c_mouse.95) -- (a8);
\draw[redarrow] (c_mouse.80) -- (a9);
\draw[redarrow] (c_hover.165) to[bend right=8] (a10);
\draw[thinredarrow] (c_enlarge.165) -- (a11);
\draw[thinred] (c_enlarge.south) -- (a12);
\draw[thinredarrow] (a12) to[bend left=2] (a13);
\draw[redarrow,-] (a14) to[bend left=8] (c_addtab.120);
\draw[redarrow,-] (c_addtab.-25) to[bend left=10] (a15);
\draw[thinredarrow] (a15) to[bend right=4] (a16);
\draw[thinredarrow] (c_dropdown.115) -- (a17);
\draw[thinredarrow] (c_dropdown.-100) -- (a18);
\draw[redarrow] (c_timeslice.65) to[bend left=15] (a19);
\draw[redarrow] (c_topx.90) to[bend right=12] (a20);
\draw[redarrow] (c_clicking.120) to[bend left=6] (a21);
\draw[redarrow] (c_default.-10) to[bend left=10] (b1);
\draw[redarrow] (c_checks.20) to[bend left=12] (b2);
\draw[redarrow] (c_title.190) to[bend right=15] (b3);
\draw[redarrow] (c_restore.110) to[bend left=10] (b4);
\draw[redarrow] (c_ifadd.85) to[bend left=15] (b5);
\draw[redarrow] (c_ok.90) -- (b6);
\draw[redarrow] (c_cancel.80) to[bend right=8] (b7);
\draw[thinredarrow] (b8) to[bend right=2] (b9);
\draw[redarrow] (c_saveall.150) -- (b10);
\draw[redarrow] (c_notif.140) -- (b11);
\draw[redarrow] (c_dbl.195) to[bend right=8] (d1);
\draw[redarrow] (c_text.165) to[bend right=10] (d2);
\draw[thinredarrow] (d3) to[bend left=25] (d4);
\draw[thinredarrow] (d5) to[bend right=25] (d6);
\draw[draw=arrowred,line width=1.8pt,rounded corners=6pt] (1794,1446) -- (1830,1441) -- (1880,1445) -- (1895,1440) -- (1910,1445) -- (1970,1441) -- (2011,1446);
\draw[thinred] (c_enl2.70) to[bend left=8] (e1);
\draw[redarrow] (c_enl2.-45) to[bend right=4] (e2);
\draw[redarrow] (c_chartopts.155) -- (e3);
\draw[redarrow] (c_clicking2.185) to[bend left=12] (e4);
\draw[redarrow] (c_print2.110) to[bend left=6] (e5);
\draw[redarrow] (c_editing.30) to[bend left=15] (f1);
\draw[redarrow] (c_editing.-30) to[bend right=12] (f2);
\draw[redarrow] (c_hoverdis.160) -- (tooltip.east);
\draw[thinredarrow] (c_clickopt.-75) -- (f3);
\draw[redarrow] (f4) .. controls (260,1705) and (320,1710) .. (f5);
\draw[redarrow] (c_ability.190) to[bend right=20] (f6);
\draw[redarrow] (c_clickdis.178) to[bend left=15] (f7);
\draw[redarrow] (c_saves.115) to[bend left=10] (f8);
\draw[redarrow] (c_prints.170) to[bend right=8] (f9);
\draw[redarrow,-] (c_display.160) -- (f10);
\draw[redarrow] (c_display.-20) -- (f11);
\end{tikzpicture}
\end{document}
